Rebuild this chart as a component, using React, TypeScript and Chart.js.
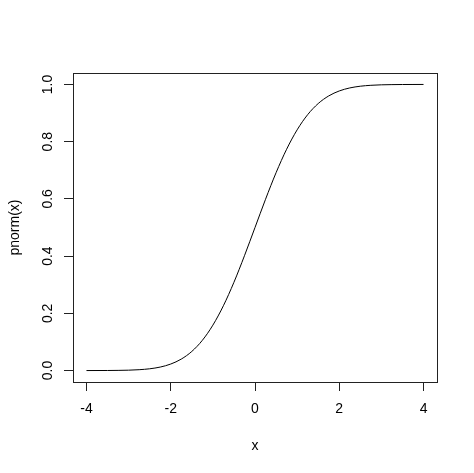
import React, { useEffect, useRef } from "react";
import { Chart, registerables } from "chart.js";

Chart.register(...registerables);

// Data (x from -4 to 4)
const xValues = [
  -4, -3.75, -3.5, -3.25, -3, -2.75, -2.5, -2.25, -2, -1.75, -1.5, -1.25, -1,
  -0.75, -0.5, -0.25, 0, 0.25, 0.5, 0.75, 1, 1.25, 1.5, 1.75, 2, 2.25, 2.5,
  2.75, 3, 3.25, 3.5, 3.75, 4,
];
const pnormValues = [
  0.0, 0.0001, 0.0002, 0.0006, 0.0013, 0.003, 0.0062, 0.0122, 0.0228, 0.0401,
  0.0668, 0.1056, 0.1587, 0.2266, 0.3085, 0.4013, 0.5, 0.5987, 0.6915, 0.7734,
  0.8413, 0.8944, 0.9332, 0.9599, 0.9772, 0.9878, 0.9938, 0.997, 0.9987,
  0.9994, 0.9998, 0.9999, 1.0,
];
const xTicks = [-4, -2, 0, 2, 4];
const yTicks = [0, 0.2, 0.4, 0.6, 0.8, 1.0];
const xTitle = "x";
const yTitle = "pnorm(x)";

const FONT = "'Liberation Sans', Arial, sans-serif";

export default function App() {
  const ref = useRef<HTMLCanvasElement | null>(null);

  useEffect(() => {
    document.body.style.margin = "0";
    const canvas = ref.current;
    if (!canvas) return;

    const boxPlugin = {
      id: "rbox",
      afterDraw(chart: any) {
        const { ctx, chartArea } = chart;
        ctx.save();
        ctx.strokeStyle = "#222";
        ctx.lineWidth = 1;
        ctx.strokeRect(
          Math.round(chartArea.left) + 0.5,
          Math.round(chartArea.top) + 0.5,
          Math.round(chartArea.right - chartArea.left),
          Math.round(chartArea.bottom - chartArea.top)
        );
        ctx.restore();
      },
    };

    const chart = new Chart(canvas, {
      type: "line",
      data: {
        datasets: [
          {
            data: xValues.map((x, i) => ({ x, y: pnormValues[i] })),
            borderColor: "#000",
            borderWidth: 1,
            pointRadius: 0,
            fill: false,
            cubicInterpolationMode: "monotone",
          },
        ],
      },
      options: {
        responsive: false,
        animation: false,
        devicePixelRatio: 1,
        layout: { padding: { top: 73, right: 37, left: 0, bottom: 0 } },
        plugins: {
          legend: { display: false },
          tooltip: { enabled: false },
        },
        scales: {
          x: {
            type: "linear",
            min: -4.32,
            max: 4.32,
            afterBuildTicks: (scale: any) => {
              scale.ticks = xTicks.map((v) => ({ value: v }));
            },
            afterFit: (scale: any) => {
              scale.height = 91;
            },
            grid: {
              display: true,
              drawOnChartArea: false,
              drawTicks: true,
              tickLength: 9,
              color: "#222",
              lineWidth: 1,
            },
            border: { display: false },
            ticks: {
              color: "#000",
              padding: 10,
              maxRotation: 0,
              minRotation: 0,
              autoSkip: false,
              font: { family: FONT, size: 14 },
              callback: (v: any) => String(v),
            },
            title: {
              display: true,
              text: xTitle,
              color: "#000",
              font: { family: FONT, size: 14 },
              padding: { top: 0, bottom: 18 },
            },
          },
          y: {
            type: "linear",
            min: -0.04,
            max: 1.04,
            afterBuildTicks: (scale: any) => {
              scale.ticks = yTicks.map((v) => ({ value: v }));
            },
            afterFit: (scale: any) => {
              scale.width = 73;
            },
            grid: {
              display: true,
              drawOnChartArea: false,
              drawTicks: true,
              tickLength: 9,
              color: "#222",
              lineWidth: 1,
            },
            border: { display: false },
            ticks: {
              color: "#000",
              padding: 6,
              minRotation: 90,
              maxRotation: 90,
              crossAlign: "center",
              autoSkip: false,
              font: { family: FONT, size: 14 },
              callback: (v: any) => Number(v).toFixed(1),
            },
            title: {
              display: true,
              text: yTitle,
              color: "#000",
              font: { family: FONT, size: 14 },
              padding: { top: 7, bottom: 0 },
            },
          },
        },
      },
      plugins: [boxPlugin],
    } as any);

    return () => chart.destroy();
  }, []);

  return (
    <canvas
      ref={ref}
      width={474}
      height={473}
      style={{ display: "block", width: 474, height: 473 }}
    />
  );
}
